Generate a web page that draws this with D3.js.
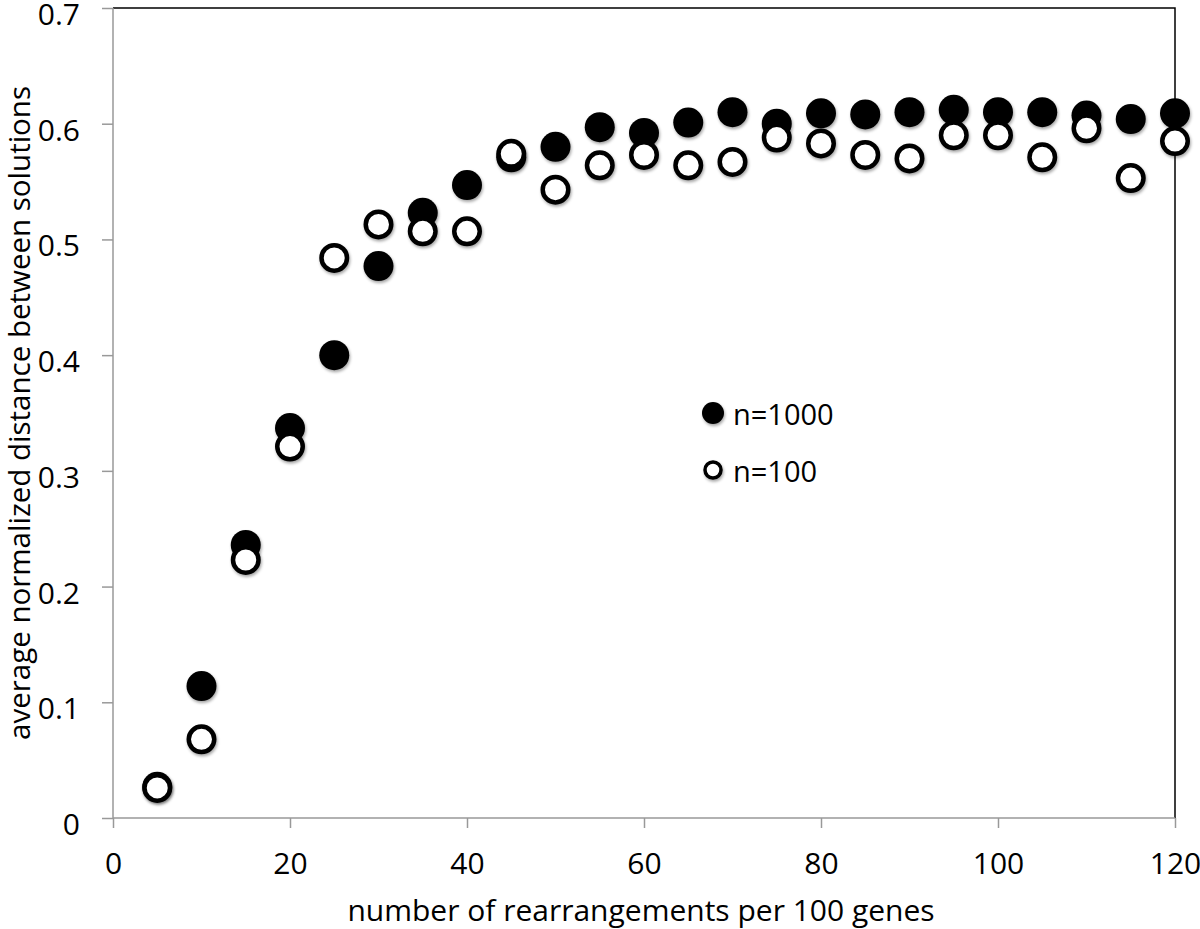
<!DOCTYPE html>
<html>
<head>
<meta charset="utf-8">
<script src="https://cdn.jsdelivr.net/npm/d3@7"></script>
<style>
  body { margin: 0; background: #fff; }
  text { font-family: "Open Sans", sans-serif; fill: #000; }
</style>
</head>
<body>
<script>
var margin = {top: 8, right: 25, bottom: 111, left: 113},
    width = 1200 - margin.left - margin.right,
    height = 929 - margin.top - margin.bottom;

var xTicks = [0, 20, 40, 60, 80, 100, 120],
    yTicks = [0, 0.1, 0.2, 0.3, 0.4, 0.5, 0.6, 0.7];

// number of rearrangements per 100 genes
var rearrangements = [5, 10, 15, 20, 25, 30, 35, 40, 45, 50, 55, 60, 65, 70, 75, 80, 85, 90, 95, 100, 105, 110, 115, 120];

var n1000 = [0.027, 0.114, 0.236, 0.337, 0.400, 0.477, 0.523, 0.547, 0.571, 0.580, 0.597, 0.592, 0.601, 0.610, 0.600, 0.609, 0.608, 0.610, 0.612, 0.610, 0.610, 0.607, 0.604, 0.609];
var n100  = [0.026, 0.068, 0.223, 0.321, 0.484, 0.513, 0.507, 0.507, 0.574, 0.543, 0.564, 0.573, 0.564, 0.567, 0.588, 0.583, 0.573, 0.570, 0.590, 0.590, 0.571, 0.596, 0.553, 0.585];

var x = d3.scaleLinear().domain([0, 120]).range([0, width]),
    y = d3.scaleLinear().domain([0, 0.7]).range([height, 0]);

var svg = d3.select("body").append("svg")
    .attr("width", 1200)
    .attr("height", 929);

var defs = svg.append("defs");
var f = defs.append("filter").attr("id", "shadow")
    .attr("x", "-50%").attr("y", "-50%").attr("width", "200%").attr("height", "200%");
f.append("feDropShadow")
    .attr("dx", 1).attr("dy", 2).attr("stdDeviation", 1.5)
    .attr("flood-color", "#000").attr("flood-opacity", 0.35);

var g = svg.append("g")
    .attr("transform", "translate(" + margin.left + "," + margin.top + ")");

// plot border (top and right)
g.append("path")
    .attr("d", "M0,0H" + width + "V" + height)
    .attr("fill", "none")
    .attr("stroke", "#000")
    .attr("stroke-width", 1.5);

// y axis
var yAxis = g.append("g")
    .call(d3.axisLeft(y).tickValues(yTicks).tickSize(11).tickPadding(22)
      .tickFormat(function(d) { return d === 0 ? "0" : d3.format(".1f")(d); }));
yAxis.selectAll("line, path").attr("stroke", "#999").attr("stroke-width", 1.5);
yAxis.select(".domain").attr("d", "M0," + height + "V0");
yAxis.selectAll("text").style("font-size", "30px").attr("dy", "0.55em");

// x axis
var xAxis = g.append("g")
    .attr("transform", "translate(0," + height + ")")
    .call(d3.axisBottom(x).tickValues(xTicks).tickSize(10).tickPadding(25));
xAxis.selectAll("line, path").attr("stroke", "#999").attr("stroke-width", 1.5);
xAxis.select(".domain").attr("d", "M0,0H" + width);
xAxis.selectAll("text").style("font-size", "30px");

// axis titles
svg.append("text")
    .attr("x", 641)
    .attr("y", 921)
    .attr("text-anchor", "middle")
    .style("font-size", "30px")
    .text("number of rearrangements per 100 genes");

svg.append("text")
    .attr("transform", "translate(30,413) rotate(-90)")
    .attr("text-anchor", "middle")
    .style("font-size", "29.5px")
    .text("average normalized distance between solutions");

// points: n=1000 drawn first, n=100 on top
g.selectAll(".dot1000")
    .data(rearrangements)
  .enter().append("circle")
    .attr("class", "dot1000")
    .attr("cx", function(d) { return x(d); })
    .attr("cy", function(d, i) { return y(n1000[i]); })
    .attr("r", 15)
    .attr("fill", "#000")
    .attr("filter", "url(#shadow)");

g.selectAll(".dot100")
    .data(rearrangements)
  .enter().append("circle")
    .attr("class", "dot100")
    .attr("cx", function(d) { return x(d); })
    .attr("cy", function(d, i) { return y(n100[i]); })
    .attr("r", 12.75)
    .attr("fill", "#fff")
    .attr("stroke", "#000")
    .attr("stroke-width", 4.5)
    .attr("filter", "url(#shadow)");

// legend
var legend = svg.append("g").attr("transform", "translate(713,0)");
legend.append("circle").attr("cy", 413).attr("r", 11).attr("fill", "#000").attr("filter", "url(#shadow)");
legend.append("text").attr("x", 20).attr("y", 425).style("font-size", "29px").text("n=1000");
legend.append("circle").attr("cy", 470).attr("r", 8).attr("fill", "#fff")
    .attr("stroke", "#000").attr("stroke-width", 3.5).attr("filter", "url(#shadow)");
legend.append("text").attr("x", 20).attr("y", 482).style("font-size", "29px").text("n=100");
</script>
</body>
</html>
